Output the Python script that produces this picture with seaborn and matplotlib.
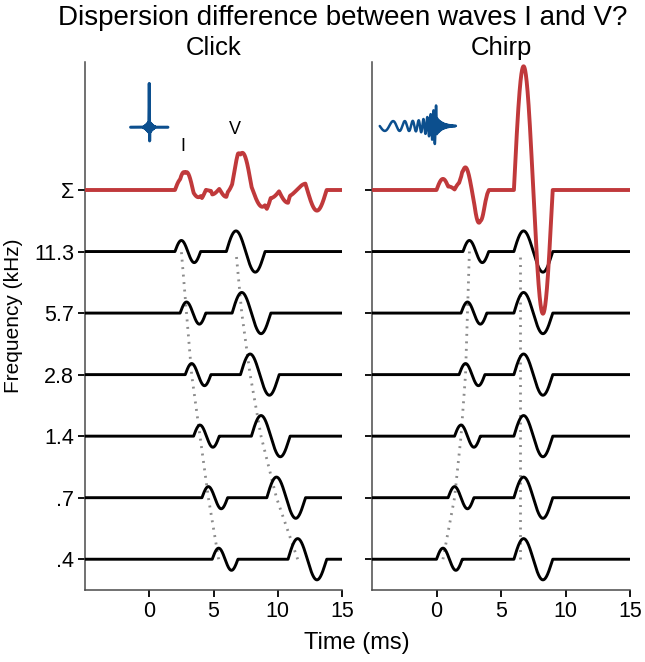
import numpy as np
import pandas as pd
import matplotlib
matplotlib.use("Agg")
import matplotlib.pyplot as plt
import seaborn as sns

# ---------------- data ----------------
freq_labels = [".4", ".7", "1.4", "2.8", "5.7", "11.3"]
sum_label = "Σ"

# onset latency (ms) of each wave, per frequency band (low -> high)
click_I_onset = [4.9, 4.1, 3.45, 2.8, 2.4, 2.0]
click_V_onset = [10.8, 9.15, 7.95, 7.1, 6.45, 6.0]
chirp_I_onset = [0.0, 0.9, 1.4, 1.75, 1.9, 2.05]
chirp_V_onset = [6.0, 6.0, 6.0, 6.0, 6.0, 6.0]

# latencies marked by the dotted guide lines (ms)
click_I_mark = [5.4, 4.6, 3.95, 3.3, 2.9, 2.5]
click_V_mark = [11.55, 9.9, 8.7, 7.85, 7.2, 6.75]
chirp_I_mark = [0.5, 1.4, 1.9, 2.25, 2.4, 2.55]
chirp_V_mark = [6.5, 6.5, 6.5, 6.5, 6.5, 6.5]

wave_I_period, wave_I_amp = 2.0, 0.18
wave_V_period, wave_V_amp = 3.0, 0.335

time_ticks = [0, 5, 10, 15]

# ---------------- styling ----------------
sns.set_theme(style="ticks")
plt.rcParams["font.family"] = ["Liberation Sans", "DejaVu Sans"]
plt.rcParams.update({"text.color": "black", "axes.labelcolor": "black",
                     "xtick.color": "black", "ytick.color": "black"})

BLACK = "#000000"
RED = "#C0393B"
BLUE = "#0C4F8E"
GRAY = "#8C8C8C"
SPINE = "#4A4A4A"

t = np.linspace(-5, 15, 4001)


def one_cycle(onset, period, amp):
    ph = (t - onset) / period
    return np.where((ph >= 0) & (ph <= 1), amp * np.sin(2 * np.pi * ph), 0.0)


def build(I_on, V_on):
    traces = []
    for a, b in zip(I_on, V_on):
        traces.append(one_cycle(a, wave_I_period, wave_I_amp) +
                      one_cycle(b, wave_V_period, wave_V_amp))
    return traces


fig = plt.figure(figsize=(6.45, 6.62), dpi=100)
ax1 = fig.add_axes([85 / 645, 1 - 590 / 662, 257 / 645, 528 / 662])
ax2 = fig.add_axes([372 / 645, 1 - 590 / 662, 258 / 645, 528 / 662])

panels = [
    (ax1, "Click", click_I_onset, click_V_onset, click_I_mark, click_V_mark),
    (ax2, "Chirp", chirp_I_onset, chirp_V_onset, chirp_I_mark, chirp_V_mark),
]

n = len(freq_labels)
for ax, name, I_on, V_on, I_mk, V_mk in panels:
    traces = build(I_on, V_on)
    # dotted guides
    for mk in (I_mk, V_mk):
        gd = pd.DataFrame({"x": mk, "y": np.arange(n, dtype=float)})
        sns.lineplot(data=gd, x="x", y="y", ax=ax, color=GRAY, lw=2.0,
                     linestyle=(0, (0.7, 2.0)), sort=False, estimator=None,
                     zorder=1, dash_capstyle="butt")
    for i, tr in enumerate(traces):
        df = pd.DataFrame({"x": t, "y": i + tr})
        sns.lineplot(data=df, x="x", y="y", ax=ax, color=BLACK, lw=2.1,
                     sort=False, estimator=None, zorder=3)
    total = np.sum(traces, axis=0)
    df = pd.DataFrame({"x": t, "y": n + total})
    sns.lineplot(data=df, x="x", y="y", ax=ax, color=RED, lw=2.8,
                 sort=False, estimator=None, zorder=4)

    ax.set_xlim(-5, 15)
    ax.set_ylim(-0.5, 8.08)
    ax.set_xticks(time_ticks)
    ax.set_yticks(np.arange(n + 1))
    ax.set_xlabel("")
    ax.set_ylabel("")
    ax.set_title(name, fontsize=18.5, pad=5)
    sns.despine(ax=ax)
    for s in ("left", "bottom"):
        ax.spines[s].set_color(SPINE)
        ax.spines[s].set_linewidth(1.1)
    ax.tick_params(axis="both", direction="out", length=5, width=1.3,
                   color=BLACK, labelsize=15.5, pad=3)

ax1.set_yticklabels(freq_labels + [sum_label])
ax1.set_xticklabels([str(v) for v in time_ticks])
ax2.set_yticklabels([])
ax2.set_xticklabels([str(v) for v in time_ticks])
ax1.yaxis.get_major_ticks()[n].tick1line.set_color(RED)

ax1.set_ylabel("Frequency (kHz)", fontsize=15)
ax1.yaxis.set_label_coords(-0.24, 0.52)

# wave labels
ax1.text(2.6, 6.70, "I", ha="center", va="center", fontsize=13)
ax1.text(6.7, 6.98, "V", ha="center", va="center", fontsize=13)

# click stimulus icon
ti = np.linspace(-1.45, 1.45, 1500)
click_icon = (7.02 + 0.70 * np.exp(-(ti / 0.012) ** 2)
              - 0.16 * np.exp(-((ti - 0.03) / 0.012) ** 2)
              + 0.09 * np.clip(1 - np.abs(ti) / 0.5, 0, None) ** 1.5
              * np.sin(2 * np.pi * 30 * ti))
sns.lineplot(x=ti, y=click_icon, ax=ax1, color=BLUE, lw=2.2, sort=False,
             estimator=None, zorder=5)

# chirp stimulus icon
tc = np.linspace(-4.4, 1.5, 6000)
u = np.clip((tc + 4.4) / 4.4, 0, 1)
f0, f1 = 0.6, 5.5
freq = np.where(tc <= 0, f0 * (f1 / f0) ** (u ** 1.2), 10.0)
phase = 2 * np.pi * np.cumsum(freq) * (tc[1] - tc[0]) + np.pi
env = np.where(tc <= 0, 0.08 + 0.27 * u ** 8,
               0.14 * np.exp(-np.clip(tc, 0, None) / 0.45))
chirp_icon = 7.04 + env * np.sin(phase)
sns.lineplot(x=tc, y=chirp_icon, ax=ax2, color=BLUE, lw=1.8, sort=False,
             estimator=None, zorder=5)

fig.text(343 / 645, 1 - 18 / 662, "Dispersion difference between waves I and V?",
         ha="center", va="center", fontsize=20)
fig.text(357 / 645, 1 - 643 / 662, "Time (ms)", ha="center", va="center",
         fontsize=17)

fig.savefig("out.png", dpi=100)
